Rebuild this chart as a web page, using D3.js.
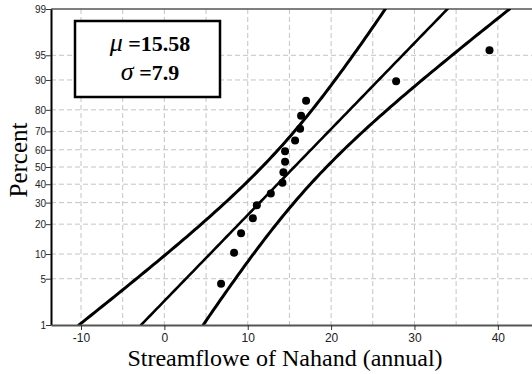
<!DOCTYPE html>
<html lang="en">
<head>
<meta charset="UTF-8">
<title>Normal probability plot</title>
<script src="https://d3js.org/d3.v7.min.js"></script>
<style>
  body { margin: 0; background: #fff; }
  svg { display: block; }
</style>
</head>
<body>
<script>
// data
const flows = [6.8, 8.36, 9.2, 10.61, 11.09, 12.77, 14.16, 14.28, 14.48, 14.48, 15.68, 16.28, 16.4, 17.0, 27.8, 39.0];
const percents = [4.27, 10.37, 16.46, 22.56, 28.66, 34.76, 40.85, 46.95, 53.05, 59.15, 65.24, 71.34, 77.44, 83.54, 89.63, 95.73];
const percentTicks = [1, 5, 10, 20, 30, 40, 50, 60, 70, 80, 90, 95, 99];
const xTicks = [-10, 0, 10, 20, 30, 40];
const xGrid = [-10, -5, 0, 5, 10, 15, 20, 25, 30, 35, 40];
const mu = 15.58, sigma = 7.9, n = 16;

const width = 532, height = 374;
const plotLeft = 51, plotRight = 532, plotTop = 9, plotBottom = 325;
const serifFont = '"Liberation Serif"';
const sansFont = '"Liberation Sans"';

// inverse normal cdf (Acklam)
function qnorm(p) {
  const a = [-3.969683028665376e+01, 2.209460984245205e+02, -2.759285104469687e+02, 1.383577518672690e+02, -3.066479806614716e+01, 2.506628277459239e+00];
  const b = [-5.447609879822406e+01, 1.615858368580409e+02, -1.556989798598866e+02, 6.680131188771972e+01, -1.328068155288572e+01];
  const c = [-7.784894002430293e-03, -3.223964580411365e-01, -2.400758277161838e+00, -2.549732539343734e+00, 4.374664141464968e+00, 2.938163982698783e+00];
  const d = [7.784695709041462e-03, 3.224671290700398e-01, 2.445134137142996e+00, 3.754408661907416e+00];
  const pl = 0.02425;
  let q, r;
  if (p < pl) {
    q = Math.sqrt(-2 * Math.log(p));
    return (((((c[0]*q+c[1])*q+c[2])*q+c[3])*q+c[4])*q+c[5]) / ((((d[0]*q+d[1])*q+d[2])*q+d[3])*q+1);
  } else if (p <= 1 - pl) {
    q = p - 0.5; r = q * q;
    return (((((a[0]*r+a[1])*r+a[2])*r+a[3])*r+a[4])*r+a[5])*q / (((((b[0]*r+b[1])*r+b[2])*r+b[3])*r+b[4])*r+1);
  } else {
    q = Math.sqrt(-2 * Math.log(1 - p));
    return -(((((c[0]*q+c[1])*q+c[2])*q+c[3])*q+c[4])*q+c[5]) / ((((d[0]*q+d[1])*q+d[2])*q+d[3])*q+1);
  }
}

const zMin = qnorm(0.01), zMax = qnorm(0.99);

const x = d3.scaleLinear().domain([-13.6, 44.1]).range([plotLeft, plotRight]);
const y = d3.scaleLinear().domain([zMin, zMax]).range([plotBottom, plotTop]);

const svg = d3.select("body").append("svg")
  .attr("width", width)
  .attr("height", height);

svg.append("defs").append("clipPath").attr("id", "plot")
  .append("rect").attr("x", plotLeft).attr("y", plotTop)
  .attr("width", plotRight - plotLeft).attr("height", plotBottom - plotTop);

// grid
const grid = svg.append("g")
  .attr("stroke", "#c4c4c4")
  .attr("stroke-width", 1)
  .attr("stroke-dasharray", "5,3");

grid.selectAll("line.v").data(xGrid).enter().append("line")
  .attr("x1", d => x(d)).attr("x2", d => x(d))
  .attr("y1", plotTop).attr("y2", plotBottom);

grid.selectAll("line.h").data(percentTicks.slice(1, -1)).enter().append("line")
  .attr("x1", plotLeft).attr("x2", plotRight)
  .attr("y1", d => y(qnorm(d / 100))).attr("y2", d => y(qnorm(d / 100)));

// top border
svg.append("line")
  .attr("x1", plotLeft).attr("x2", plotRight).attr("y1", plotTop).attr("y2", plotTop)
  .attr("stroke", "#555").attr("stroke-width", 1.5);

// fit line and confidence band
const zs = d3.range(0, 101).map(i => zMin + (zMax - zMin) * i / 100);
const se = z => sigma * Math.sqrt((1 + z * z / 2) / n);
const line = d3.line().x(d => x(d[0])).y(d => y(d[1]));

const lines = svg.append("g").attr("clip-path", "url(#plot)")
  .attr("fill", "none").attr("stroke", "#000").attr("stroke-linecap", "round");

lines.append("path").attr("stroke-width", 2.6)
  .attr("d", line(zs.map(z => [mu + z * sigma, z])));
lines.append("path").attr("stroke-width", 3)
  .attr("d", line(zs.map(z => [mu + z * sigma - 1.96 * se(z), z])));
lines.append("path").attr("stroke-width", 3)
  .attr("d", line(zs.map(z => [mu + z * sigma + 1.96 * se(z), z])));

// points
svg.append("g").selectAll("circle")
  .data(flows.map((v, i) => [v, percents[i]]))
  .enter().append("circle")
  .attr("cx", d => x(d[0]))
  .attr("cy", d => y(qnorm(d[1] / 100)))
  .attr("r", 4)
  .attr("fill", "#000");

// axes
const yAxis = svg.append("g")
  .attr("transform", `translate(${plotLeft},0)`)
  .call(d3.axisLeft(y)
    .tickValues(percentTicks.map(p => qnorm(p / 100)))
    .tickFormat((d, i) => percentTicks[i])
    .tickSize(5).tickSizeOuter(0));
yAxis.attr("font-family", null);
yAxis.select(".domain").attr("stroke", "#000").attr("stroke-width", 2);
yAxis.selectAll(".tick line").attr("stroke", "#333");
yAxis.selectAll(".tick text")
  .style("font-family", sansFont).attr("font-size", 10).attr("fill", "#222")
  .attr("x", -5).attr("dy", "0.35em");

const xAxis = svg.append("g")
  .attr("transform", `translate(0,${plotBottom})`)
  .call(d3.axisBottom(x).tickValues(xTicks).tickFormat(d => String(d)).tickSize(5).tickSizeOuter(0));
xAxis.attr("font-family", null);
xAxis.select(".domain").attr("stroke", "#555").attr("stroke-width", 2.2);
xAxis.selectAll(".tick line").attr("stroke", "#333");
xAxis.selectAll(".tick text")
  .style("font-family", sansFont).attr("font-size", 12).attr("fill", "#222")
  .attr("y", 8);

// axis titles
svg.append("text")
  .attr("transform", "translate(27,160) rotate(-90)")
  .attr("text-anchor", "middle")
  .style("font-family", serifFont).attr("font-size", 25)
  .text("Percent");

svg.append("text")
  .attr("x", 285).attr("y", 366)
  .attr("text-anchor", "middle")
  .style("font-family", serifFont).attr("font-size", 24)
  .text("Streamflowe of Nahand (annual)");

// parameter box
svg.append("rect")
  .attr("x", 75).attr("y", 21).attr("width", 145).attr("height", 76)
  .attr("fill", "#fff").attr("stroke", "#000").attr("stroke-width", 2.5);

const stats = [["\u03BC", " =" + mu], ["\u03C3", " =" + sigma]];
stats.forEach((s, i) => {
  const t = svg.append("text")
    .attr("x", 150).attr("y", 51 + i * 29)
    .attr("text-anchor", "middle")
    .style("font-family", serifFont).attr("font-size", 22);
  t.append("tspan").style("font-style", "italic").attr("font-size", 26).text(s[0]);
  t.append("tspan").style("font-weight", "bold").text(s[1]);
});
</script>
</body>
</html>
